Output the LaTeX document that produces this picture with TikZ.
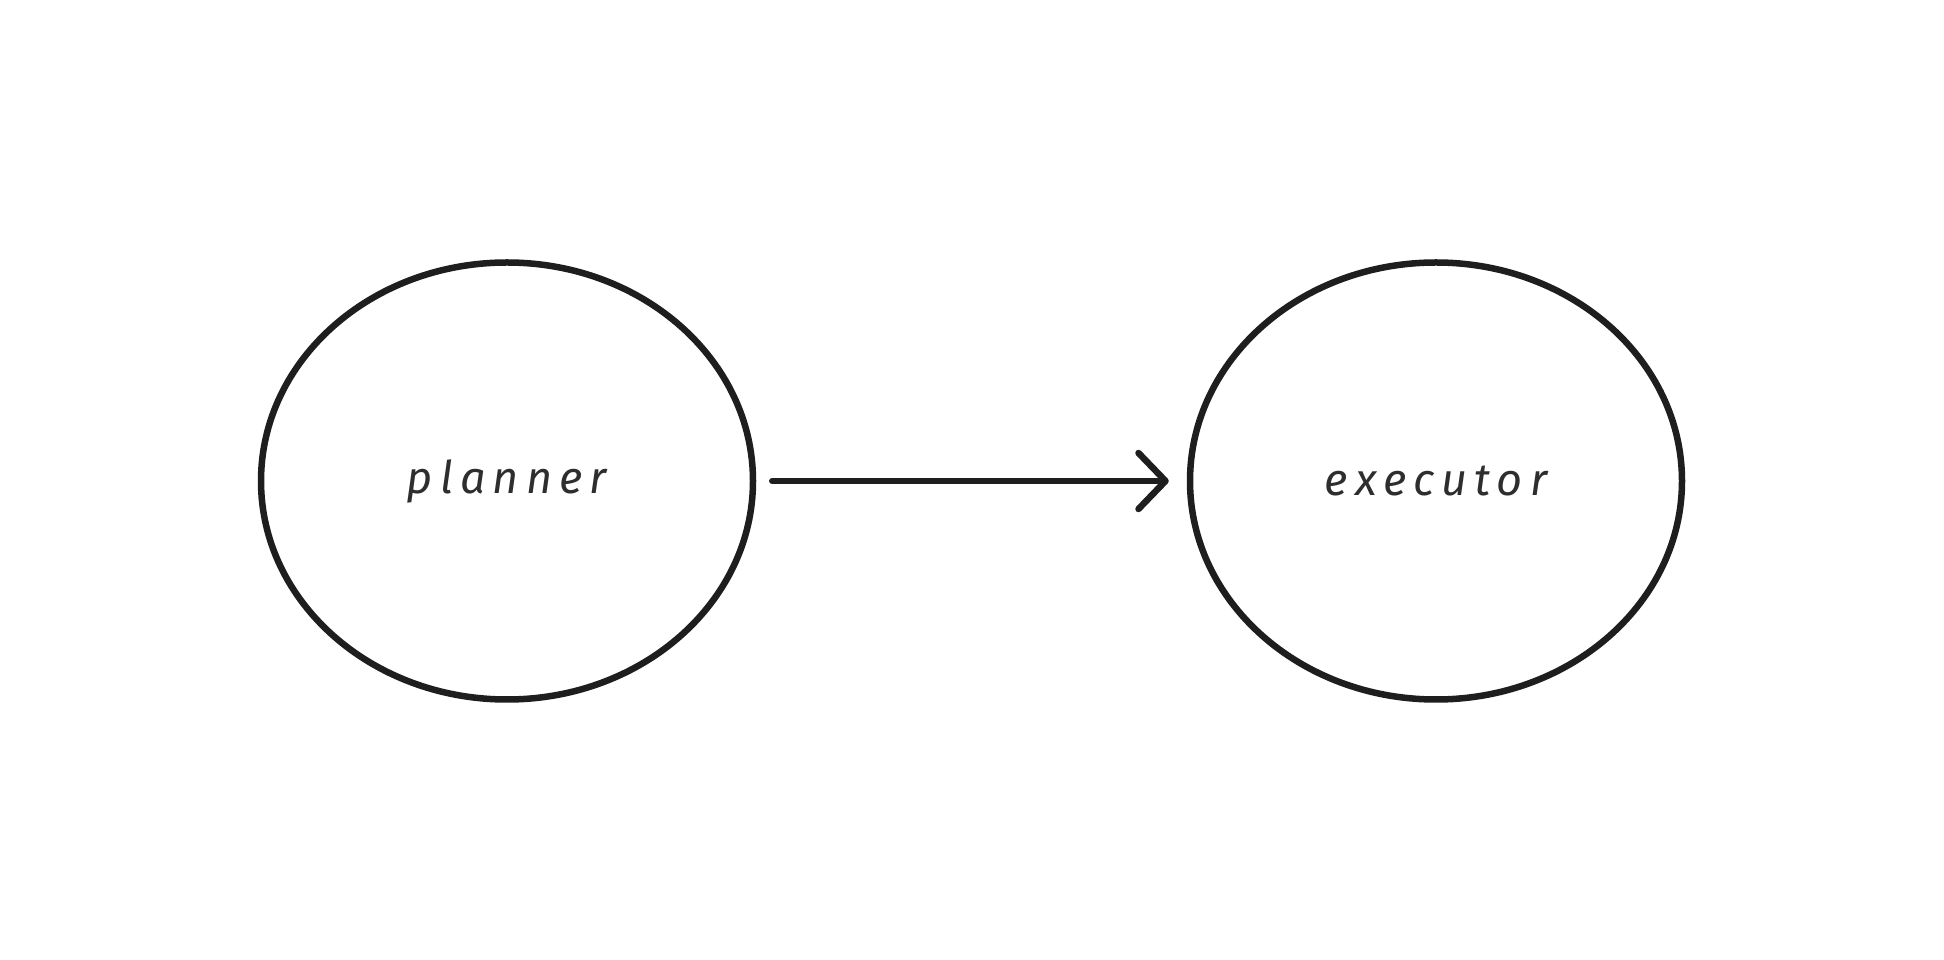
\documentclass[tikz,border=0pt]{standalone}
\usepackage{fontspec}
\newfontfamily\handfont{Fira Sans}[LetterSpace=16]
\usetikzlibrary{shapes.geometric,arrows.meta}
\definecolor{ink}{HTML}{1E1E1E}
\definecolor{txt}{HTML}{2E2E2E}
\begin{document}
\begin{tikzpicture}[x=1pt,y=1pt,
  bubble/.style={ellipse,draw=ink,line width=6.5pt,minimum width=492pt,minimum height=437pt,inner sep=0pt,
    font=\handfont\fontsize{45}{54}\selectfont\itshape,text=txt},
  link/.style={draw=ink,line width=6.5pt,line cap=round,-{Straight Barb[length=27pt,width=56pt,round]}}]
\useasboundingbox (0,0) rectangle (1944,959);
\fill[white] (0,0) rectangle (1944,959);
\node[bubble] (planner) at (507,478) {planner};
\node[bubble] (executor) at (1436,478) {executor};
\draw[link,shorten <=16pt,shorten >=18pt] (planner.east) -- (executor.west);
\end{tikzpicture}
\end{document}
